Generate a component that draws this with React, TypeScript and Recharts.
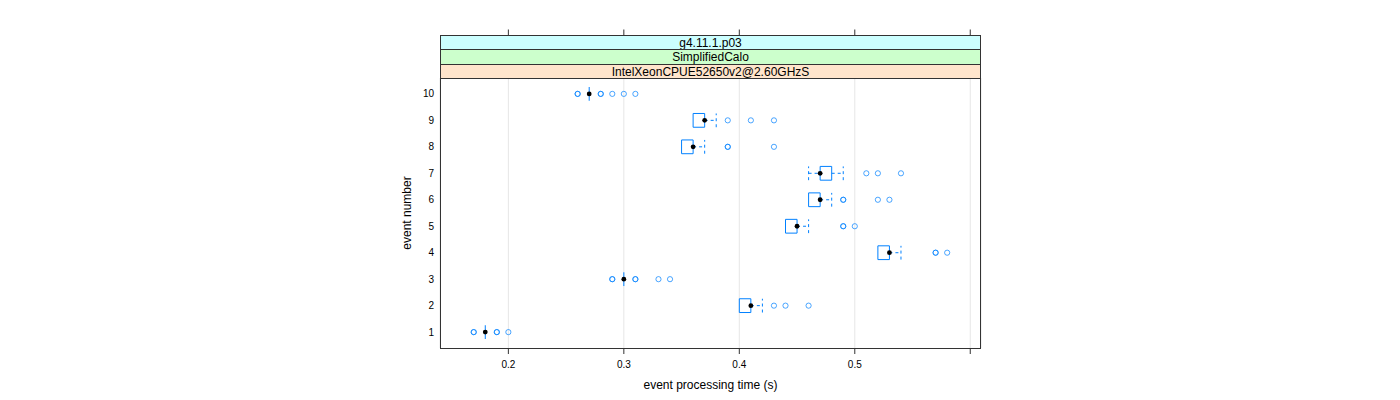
import React from "react";
import {
  ScatterChart,
  Scatter,
  XAxis,
  YAxis,
  CartesianGrid,
  ReferenceArea,
  ReferenceLine,
  Customized,
} from "recharts";

// event number on the y axis
const rows = [1, 2, 3, 4, 5, 6, 7, 8, 9, 10];

// box statistics per event (seconds)
const whiskerLow = [0.18, 0.40, 0.30, 0.52, 0.44, 0.46, 0.46, 0.35, 0.36, 0.27];
const boxLow = [0.18, 0.40, 0.30, 0.52, 0.44, 0.46, 0.47, 0.35, 0.36, 0.27];
const boxMedian = [0.18, 0.41, 0.30, 0.53, 0.45, 0.47, 0.47, 0.36, 0.37, 0.27];
const boxHigh = [0.18, 0.41, 0.30, 0.53, 0.45, 0.47, 0.48, 0.36, 0.37, 0.27];
const whiskerHigh = [0.18, 0.42, 0.30, 0.54, 0.46, 0.48, 0.49, 0.37, 0.38, 0.27];

// outliers per event (repeated values overlap and look darker)
const outliers = [
  [0.17, 0.17, 0.19, 0.19, 0.2],
  [0.43, 0.44, 0.46],
  [0.29, 0.29, 0.31, 0.31, 0.33, 0.34],
  [0.57, 0.57, 0.58],
  [0.49, 0.49, 0.5],
  [0.49, 0.49, 0.52, 0.53],
  [0.51, 0.52, 0.54],
  [0.39, 0.39, 0.43],
  [0.39, 0.41, 0.43],
  [0.26, 0.26, 0.28, 0.28, 0.29, 0.3, 0.31],
];

const xTicks = [0.2, 0.3, 0.4, 0.5, 0.6];
const xTickLabels = ["0.2", "0.3", "0.4", "0.5", ""];

const strips = [
  { label: "g4.11.1.p03", fill: "#ccffff" },
  { label: "SimplifiedCalo", fill: "#ccffcc" },
  { label: "IntelXeonCPUE52650v2@2.60GHzS", fill: "#ffe5cc" },
];

const FONT = "'Liberation Sans', Arial, Helvetica, sans-serif";
const BLUE = "#0080ff";
const LINE = "#333333";
const DASH = "3 3";

// layout
const W = 1400;
const H = 400;
const PLOT_LEFT = 440;
const PLOT_RIGHT = 981;
const PLOT_TOP = 78;
const PLOT_BOTTOM = 348;
const STRIP_TOP = 35.5;
const STRIP_YS = [35.5, 49.5, 64.5, 78.5];
const Y_AXIS_W = 30;
const X_AXIS_H = 30;
const BOX_HALF = 0.26;

const medianPoints = rows.map((r, i) => ({ x: boxMedian[i], y: r }));
const outlierPoints = rows.flatMap((r, i) => outliers[i].map((v) => ({ x: v, y: r })));

function XTick(props: any) {
  const { x, index } = props;
  const label = xTickLabels[index] ?? "";
  return (
    <g>
      <line x1={x} x2={x} y1={STRIP_TOP - 6} y2={STRIP_TOP} stroke={LINE} />
      <line x1={x} x2={x} y1={PLOT_BOTTOM + 0.5} y2={PLOT_BOTTOM + 6} stroke={LINE} />
      {label && (
        <text x={x} y={PLOT_BOTTOM + 20} textAnchor="middle" fontSize={10} fontFamily={FONT} fill="#000">
          {label}
        </text>
      )}
    </g>
  );
}

function Frame() {
  const l = PLOT_LEFT + 0.5;
  const r = PLOT_RIGHT - 0.5;
  const cx = (l + r) / 2;
  return (
    <g>
      {strips.map((s, i) => (
        <g key={s.label}>
          <rect
            x={l}
            y={STRIP_YS[i]}
            width={r - l}
            height={STRIP_YS[i + 1] - STRIP_YS[i]}
            fill={s.fill}
            stroke={LINE}
          />
          <text
            x={cx}
            y={(STRIP_YS[i] + STRIP_YS[i + 1]) / 2}
            textAnchor="middle"
            dominantBaseline="central"
            fontSize={12}
            fontFamily={FONT}
            fill="#000"
          >
            {s.label}
          </text>
        </g>
      ))}
      <rect
        x={l}
        y={STRIP_YS[3]}
        width={r - l}
        height={PLOT_BOTTOM + 0.5 - STRIP_YS[3]}
        fill="none"
        stroke={LINE}
      />
      <text x={cx} y={389} textAnchor="middle" fontSize={12} fontFamily={FONT} fill="#000">
        event processing time (s)
      </text>
      <text
        x={0}
        y={0}
        transform={`translate(411, ${(PLOT_TOP + PLOT_BOTTOM) / 2}) rotate(-90)`}
        textAnchor="middle"
        fontSize={12}
        fontFamily={FONT}
        fill="#000"
      >
        event number
      </text>
    </g>
  );
}

export default function App() {
  return (
    <div style={{ position: "absolute", left: 0, top: 0, width: W, height: H, background: "#fff" }}>
      <ScatterChart
        width={W}
        height={H}
        margin={{
          top: PLOT_TOP,
          right: W - PLOT_RIGHT,
          bottom: H - PLOT_BOTTOM - X_AXIS_H,
          left: PLOT_LEFT - Y_AXIS_W,
        }}
      >
        <CartesianGrid horizontal={false} stroke="#e6e6e6" />
        <XAxis
          type="number"
          dataKey="x"
          domain={[0.1408, 0.6093]}
          ticks={xTicks}
          height={X_AXIS_H}
          axisLine={false}
          tickLine={false}
          tick={<XTick />}
          interval={0}
          allowDataOverflow
        />
        <YAxis
          type="number"
          dataKey="y"
          domain={[0.4, 10.6]}
          ticks={rows}
          width={Y_AXIS_W}
          axisLine={false}
          tickLine={false}
          tickSize={0}
          tickMargin={6}
          interval={0}
          tick={{ fontSize: 10, fill: "#000", fontFamily: FONT }}
          allowDataOverflow
        />
        <Customized component={<Frame />} />

        {rows.map((r, i) =>
          boxHigh[i] > boxLow[i] ? (
            <ReferenceArea
              key={`box-${r}`}
              x1={boxLow[i]}
              x2={boxHigh[i]}
              y1={r - BOX_HALF}
              y2={r + BOX_HALF}
              fill="none"
              stroke={BLUE}
              strokeWidth={1}
            />
          ) : (
            <ReferenceLine
              key={`box-${r}`}
              segment={[
                { x: boxLow[i], y: r - BOX_HALF },
                { x: boxLow[i], y: r + BOX_HALF },
              ]}
              stroke={BLUE}
            />
          )
        )}

        {rows.map((r, i) =>
          whiskerHigh[i] > boxHigh[i] ? (
            <React.Fragment key={`wh-${r}`}>
              <ReferenceLine
                segment={[
                  { x: boxHigh[i], y: r },
                  { x: whiskerHigh[i], y: r },
                ]}
                stroke={BLUE}
                strokeDasharray={DASH}
              />
              <ReferenceLine
                segment={[
                  { x: whiskerHigh[i], y: r - BOX_HALF },
                  { x: whiskerHigh[i], y: r + BOX_HALF },
                ]}
                stroke={BLUE}
                strokeDasharray={DASH}
              />
            </React.Fragment>
          ) : null
        )}

        {rows.map((r, i) =>
          whiskerLow[i] < boxLow[i] ? (
            <React.Fragment key={`wl-${r}`}>
              <ReferenceLine
                segment={[
                  { x: whiskerLow[i], y: r },
                  { x: boxLow[i], y: r },
                ]}
                stroke={BLUE}
                strokeDasharray={DASH}
              />
              <ReferenceLine
                segment={[
                  { x: whiskerLow[i], y: r - BOX_HALF },
                  { x: whiskerLow[i], y: r + BOX_HALF },
                ]}
                stroke={BLUE}
                strokeDasharray={DASH}
              />
            </React.Fragment>
          ) : null
        )}

        <Scatter
          data={outlierPoints}
          isAnimationActive={false}
          shape={(p: any) => (
            <circle cx={p.cx} cy={p.cy} r={2.6} fill="none" stroke={BLUE} strokeOpacity={0.7} strokeWidth={1} />
          )}
        />
        <Scatter
          data={medianPoints}
          isAnimationActive={false}
          shape={(p: any) => <circle cx={p.cx} cy={p.cy} r={2.4} fill="#000" />}
        />
      </ScatterChart>
    </div>
  );
}
